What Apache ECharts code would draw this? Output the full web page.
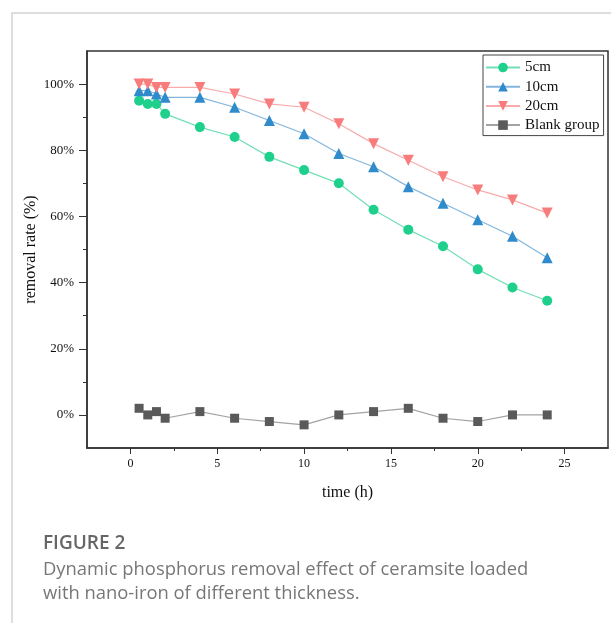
<!DOCTYPE html>
<html>
<head>
<meta charset="utf-8">
<script src="https://cdn.jsdelivr.net/npm/echarts@6/dist/echarts.min.js"></script>
<style>
  html, body { margin: 0; padding: 0; background: #fff; }
  #chart { width: 611px; height: 623px; }
</style>
</head>
<body>
<div id="chart"></div>
<script>
  // time (h)
  const times = [0.5, 1, 1.5, 2, 4, 6, 8, 10, 12, 14, 16, 18, 20, 22, 24];
  // removal rate (%)
  const rate5 = [95, 94, 94, 91, 87, 84, 78, 74, 70, 62, 56, 51, 44, 38.5, 34.5];
  const rate10 = [98, 98, 97, 96, 96, 93, 89, 85, 79, 75, 69, 64, 59, 54, 47.5];
  const rate20 = [100, 100, 99, 99, 99, 97, 94, 93, 88, 82, 77, 72, 68, 65, 61];
  const blank = [2, 0, 1, -1, 1, -1, -2, -3, 0, 1, 2, -1, -2, 0, 0];

  const xMajor = [0, 5, 10, 15, 20, 25];
  const xMinor = [2.5, 7.5, 12.5, 17.5, 22.5];
  const yMajor = [0, 20, 40, 60, 80, 100];
  const yMinor = [10, 30, 50, 70, 90];

  const serif = "Liberation Serif";
  const axisColor = "#333";

  const pair = (arr) => times.map((t, i) => [t, arr[i]]);

  const mkSeries = (name, arr, symbol, size, color, lineColor, rotate) => ({
    name: name,
    type: "line",
    data: pair(arr),
    symbol: symbol,
    symbolSize: size,
    symbolRotate: rotate || 0,
    itemStyle: { color: color },
    lineStyle: { color: lineColor, width: 1.2 },
    emphasis: { disabled: true },
    animation: false,
  });

  const chart = echarts.init(document.getElementById("chart"));

  const option = {
    backgroundColor: "#fff",
    animation: false,
    grid: {
      left: 87,
      right: 3,
      top: 51,
      bottom: 175,
      show: true,
      borderColor: axisColor,
      borderWidth: 1.5,
    },
    legend: {
      orient: "vertical",
      left: 483,
      top: 55,
      itemWidth: 34,
      itemHeight: 12,
      itemGap: 4.2,
      padding: [5, 4, 3, 2],
      borderColor: "#444",
      borderWidth: 1,
      textStyle: { fontFamily: serif, fontSize: 15, color: "#111" },
      data: ["5cm", "10cm", "20cm", "Blank group"],
    },
    xAxis: [
      {
        type: "value",
        min: -2.5,
        max: 27.5,
        name: "time (h)",
        nameLocation: "middle",
        nameGap: 37,
        nameTextStyle: { fontFamily: serif, fontSize: 16, color: "#111" },
        axisLine: { show: true, onZero: false, lineStyle: { color: axisColor, width: 1.5 } },
        axisTick: { show: true, length: 6, customValues: xMajor, lineStyle: { color: axisColor } },
        axisLabel: { customValues: xMajor, fontFamily: serif, fontSize: 12, color: "#111", margin: 10 },
        splitLine: { show: false },
      },
      {
        type: "value",
        min: -2.5,
        max: 27.5,
        position: "bottom",
        axisLine: { show: false, onZero: false },
        axisTick: { show: true, length: 3, customValues: xMinor, lineStyle: { color: axisColor } },
        axisLabel: { show: false },
        splitLine: { show: false },
      },
    ],
    yAxis: [
      {
        type: "value",
        min: -10,
        max: 110,
        name: "removal rate (%)",
        nameLocation: "middle",
        nameGap: 48,
        nameMoveOverlap: false,
        nameTextStyle: { fontFamily: serif, fontSize: 16, color: "#111" },
        axisLine: { show: true, onZero: false, lineStyle: { color: axisColor, width: 1.5 } },
        axisTick: { show: true, length: 8, customValues: yMajor, lineStyle: { color: axisColor } },
        axisLabel: {
          customValues: yMajor,
          formatter: (v) => v + "%",
          fontFamily: serif,
          fontSize: 13,
          color: "#111",
          margin: 13,
        },
        splitLine: { show: false },
      },
      {
        type: "value",
        min: -10,
        max: 110,
        position: "left",
        axisLine: { show: false, onZero: false },
        axisTick: { show: true, length: 4, customValues: yMinor, lineStyle: { color: axisColor } },
        axisLabel: { show: false },
        splitLine: { show: false },
      },
    ],
    series: [
      mkSeries("5cm", rate5, "circle", 10, "#1fd08c", "#72dfb5"),
      mkSeries("10cm", rate10, "triangle", 11, "#2f8bcb", "#82b6de"),
      mkSeries("20cm", rate20, "triangle", 11, "#f87c7c", "#f9abab", 180),
      mkSeries("Blank group", blank, "rect", 9, "#5a5a5a", "#a3a3a3"),
    ],
    graphic: [
      {
        type: "polyline",
        shape: { points: [[12, 623], [12, 13], [611, 13]] },
        style: { stroke: "#d2d2d2", lineWidth: 1.5, fill: null },
        silent: true,
      },
      {
        type: "text",
        left: 43,
        top: 534,
        style: { text: "FIGURE 2", fontFamily: "Open Sans", fontWeight: 600, fontSize: 19, fill: "#666" },
      },
      {
        type: "text",
        left: 43,
        top: 558,
        style: {
          text: "Dynamic phosphorus removal effect of ceramsite loaded\nwith nano-iron of different thickness.",
          fontFamily: "Open Sans",
          fontSize: 18.4,
          lineHeight: 24,
          fill: "#777",
        },
      },
    ],
  };

  chart.setOption(option);
</script>
</body>
</html>
